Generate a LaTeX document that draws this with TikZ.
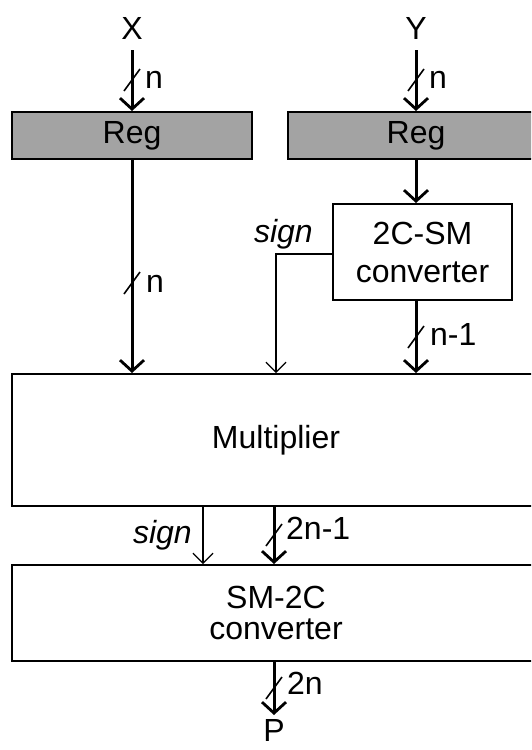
\documentclass[tikz,border=0pt]{standalone}
\usepackage{fontspec}
\setmainfont{Liberation Sans}
\usetikzlibrary{arrows.meta,calc}
\definecolor{regfill}{gray}{0.64}
\newcommand\busslash[1]{\draw[slashline] ($(#1)+(-8,11)$) -- ($(#1)+(8,-11)$);}
\begin{document}
\begin{tikzpicture}[x=1pt,y=-1pt,
  txt/.style={font=\fontsize{32}{38}\selectfont},
  box/.style={draw, line width=2pt, inner sep=0pt, txt, align=center},
  regbox/.style={box, fill=regfill},
  bus/.style={line width=3pt, -{Straight Barb[length=11pt,width=24pt,line width=2.8pt]}},
  thinarrow/.style={line width=1.2pt, -{Straight Barb[length=10pt,width=20pt,line width=1.2pt]}},
  slashline/.style={line width=1.6pt},
  lbl/.style={txt, inner sep=0pt},
  sgn/.style={txt, inner sep=0pt, font=\fontsize{32}{38}\selectfont\itshape}]
\useasboundingbox (0,0) rectangle (531,750);
\clip (0,0) rectangle (531,750);

% blocks
\node[regbox, minimum width=240pt, minimum height=47pt] (regx) at (132,135.5) {Reg};
\node[regbox, minimum width=256pt, minimum height=47pt] (regy) at (416,135.5) {Reg};
\node[box, minimum width=179pt, minimum height=96pt, font=\fontsize{32}{38}\selectfont] (conv) at (422.5,252) {2C-SM\\converter};
\node[box, minimum width=528pt, minimum height=132pt] (mult) at (276,440) {Multiplier};
\node[box, minimum width=528pt, minimum height=96pt, font=\fontsize{32}{31}\selectfont] (smc) at (276,613) {SM-2C\\converter};

% inputs / outputs
\node[lbl] (X) at (132,28) {X};
\node[lbl] (Y) at (416,28) {Y};
\coordinate (xin) at (132,50);
\coordinate (yin) at (416,50);
\coordinate (pout) at (274,715);
\node[lbl, anchor=base] (P) at (274,741) {P};

% connectors
\draw[bus] (xin) -- (regx.north);
\draw[bus] (yin) -- (regy.north);
\draw[bus] (regx.south) -- (regx.south |- mult.north);
\draw[bus] (regy.south) -- (regy.south |- conv.north);
\draw[bus] (conv.south -| regy.south) -- (regy.south |- mult.north);
\coordinate (sgnc) at (276,254);
\draw[thinarrow] (conv.west |- sgnc) -- (sgnc) -- (sgnc |- mult.north);
\coordinate (sgnm) at (203,506);
\draw[thinarrow] (sgnm |- mult.south) -- (sgnm |- smc.north);
\coordinate (prod) at (274,506);
\draw[bus] (prod |- mult.south) -- (prod |- smc.north);
\draw[bus] (prod |- smc.south) -- (pout);

% bus width marks
\busslash{132,80}
\busslash{416,80}
\busslash{132,283}
\busslash{416,337}
\busslash{274,535}
\busslash{274,688}

% labels
\node[lbl, anchor=base west] (n1) at (145,88) {n};
\node[lbl, anchor=base west] (n2) at (429,88) {n};
\node[lbl, anchor=base west] (n3) at (146,292) {n};
\node[lbl, anchor=base west] (n4) at (430,345) {n-1};
\node[lbl, anchor=base west] (n5) at (286,539) {2n-1};
\node[lbl, anchor=base west] (n6) at (287,694) {2n};
\node[sgn, anchor=base east] (s1) at (313,242) {sign};
\node[sgn, anchor=base east] (s2) at (192,543) {sign};
\end{tikzpicture}
\end{document}
